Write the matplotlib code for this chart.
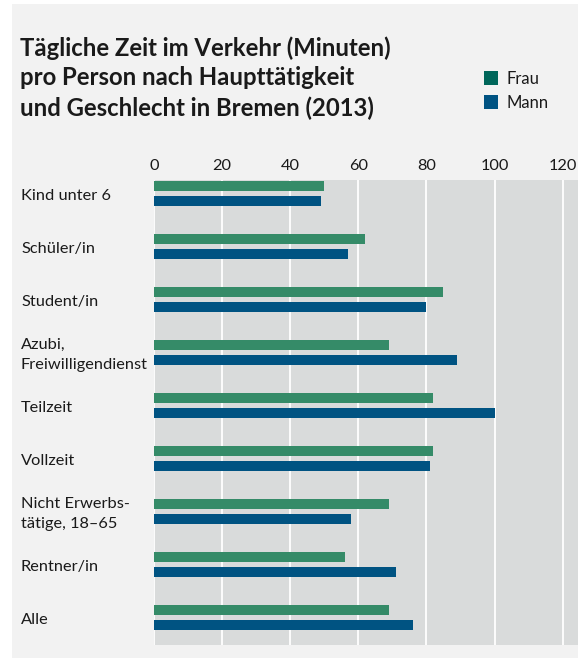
import matplotlib
matplotlib.use("Agg")
import matplotlib.pyplot as plt
import matplotlib.transforms as mtransforms
from matplotlib.patches import Rectangle
import numpy as np

# Daten (Minuten pro Tag)
KATEGORIEN = ["Kind unter 6", "Schüler/in", "Student/in", "Azubi,\nFreiwilligendienst",
              "Teilzeit", "Vollzeit", "Nicht Erwerbs-\ntätige, 18\u201365", "Rentner/in", "Alle"]
FRAU = [50, 62, 85, 69, 82, 82, 69, 56, 69]
MANN = [49, 57, 80, 89, 100, 81, 58, 71, 76]
TICKS = [0, 20, 40, 60, 80, 100, 120]

C_FRAU = "#358b68"
C_MANN = "#005382"
C_FRAU_LEG = "#00665a"
C_PANEL = "#f2f2f2"
C_PLOT = "#d9dbdb"
C_TEXT = "#1a1a1a"

plt.rcParams["font.family"] = ["Lato", "DejaVu Sans"]

W, H = 578, 659
fig = plt.figure(figsize=(W / 100, H / 100), dpi=100)
fig.patch.set_facecolor("white")
fig.patches.append(Rectangle((12 / W, 1 - 658 / H), 1 - 12 / W, (658 - 4) / H,
                             transform=fig.transFigure, facecolor=C_PANEL, edgecolor="none", zorder=-10))

# Plotbereich
x0, x1, y0, y1 = 154, 578, 180, 645
ax = fig.add_axes([x0 / W, 1 - y1 / H, (x1 - x0) / W, (y1 - y0) / H])
ax.set_facecolor(C_PLOT)
for s in ax.spines.values():
    s.set_visible(False)

y = np.arange(len(KATEGORIEN))
off, bh = 0.1415, 0.189
ax.barh(y - off, FRAU, height=bh, color=C_FRAU, zorder=3)
ax.barh(y + off, MANN, height=bh, color=C_MANN, zorder=3)

ax.set_xlim(0, (x1 - x0) / 3.405)
ax.set_ylim(8.52, -0.255)
ax.set_xticks(TICKS)
ax.xaxis.tick_top()
ax.tick_params(axis="x", length=0, pad=5, labelsize=11.8, labelcolor=C_TEXT)
ax.set_yticks([])
for t in TICKS:
    ax.axvline(t, color="white", lw=1.3, zorder=1)

# Kategoriebeschriftungen
trans = mtransforms.blended_transform_factory(fig.transFigure, ax.transData)
for yi, lab in zip(y, KATEGORIEN):
    ax.text(21 / W, yi + 0.05, lab, transform=trans, ha="left", va="center",
            fontsize=11.8, color=C_TEXT, linespacing=1.55, clip_on=False)

# Titel
fig.text(20 / W, 1 - 36 / H,
         "Tägliche Zeit im Verkehr (Minuten)\npro Person nach Haupttätigkeit\nund Geschlecht in Bremen (2013)",
         ha="left", va="top", fontsize=17.2, fontweight="bold", color=C_TEXT, linespacing=1.36)

# Legende
for i, (lab, c) in enumerate([("Frau", C_FRAU_LEG), ("Mann", C_MANN)]):
    top = 71 + i * 24
    fig.patches.append(Rectangle((484 / W, 1 - (top + 14) / H), 14 / W, 14 / H,
                                 transform=fig.transFigure, facecolor=c, edgecolor="none"))
    fig.text(507 / W, 1 - (top + 8.5) / H, lab, ha="left", va="center", fontsize=12, color=C_TEXT)

fig.savefig("out.png", dpi=100, facecolor=fig.get_facecolor())
